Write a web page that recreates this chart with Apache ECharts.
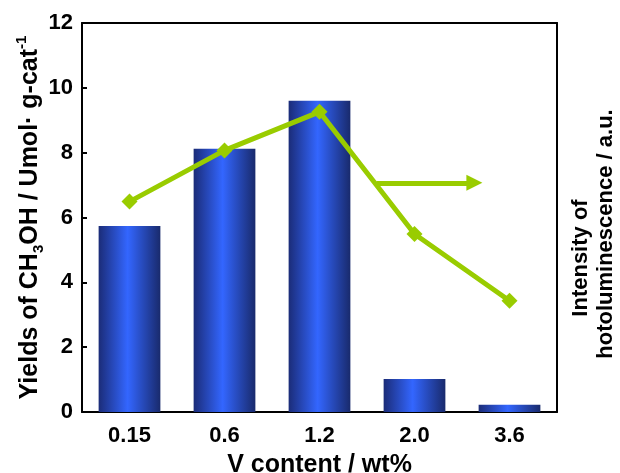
<!DOCTYPE html>
<html><head><meta charset="utf-8">
<script src="https://cdn.jsdelivr.net/npm/echarts@6/dist/echarts.min.js"></script>
<style>html,body{margin:0;padding:0;background:#fff}#c{width:620px;height:473px}</style>
</head><body><div id="c"></div>
<script>
var categories = ['0.15', '0.6', '1.2', '2.0', '3.6'];
var yieldValues = [5.74, 8.12, 9.6, 1.02, 0.22];
var plValues = [6.49, 8.07, 9.26, 5.49, 3.43];
var yTicks = [0, 2, 4, 6, 8, 10, 12];
var arrowX = [2.6, 3.63];
var arrowY = 7.07;

var FONT = '"Liberation Sans", Arial, Helvetica, sans-serif';
var chart = echarts.init(document.getElementById('c'), null, {renderer: 'canvas'});
var barGrad = new echarts.graphic.LinearGradient(0, 0, 1, 0, [
  {offset: 0, color: '#1b2c78'},
  {offset: 0.47, color: '#3366ff'},
  {offset: 1, color: '#192a6c'}
]);
chart.setOption({
  animation: false,
  backgroundColor: '#fff',
  grid: {left: 82, right: 63, top: 23, bottom: 61, containLabel: false, outerBoundsMode: 'none'},
  xAxis: [{
    type: 'category', data: categories, position: 'bottom',
    axisLine: {onZero: false, lineStyle: {color: '#000', width: 2}},
    axisTick: {show: false},
    axisLabel: {color: '#000', fontFamily: FONT, fontWeight: 'bold', fontSize: 22, margin: 13},
    name: 'V content / wt%', nameLocation: 'middle', nameGap: 41,
    nameTextStyle: {color: '#000', fontFamily: FONT, fontWeight: 'bold', fontSize: 25}
  }, {
    type: 'value', min: -0.5, max: 4.5, position: 'top',
    axisLine: {show: true, onZero: false, lineStyle: {color: '#000', width: 2}},
    axisTick: {show: false}, axisLabel: {show: false}, splitLine: {show: false}
  }],
  yAxis: [{
    type: 'value', min: yTicks[0], max: yTicks[yTicks.length - 1], interval: 2,
    axisLine: {show: true, onZero: false, lineStyle: {color: '#000', width: 2}},
    axisTick: {show: true, inside: true, length: 5, lineStyle: {color: '#000', width: 2}},
    axisLabel: {color: '#000', fontFamily: FONT, fontWeight: 'bold', fontSize: 22, margin: 9},
    splitLine: {show: false},
    name: '{a|Yields of CH}{sub|3}{a|OH / Umol· g-cat}{sup|-1}',
    nameLocation: 'middle', nameRotate: 90, nameGap: 36, nameMoveOverlap: false,
    nameTextStyle: {
      color: '#000', fontFamily: FONT, fontWeight: 'bold', fontSize: 25,
      rich: {
        a: {fontFamily: FONT, fontWeight: 'bold', fontSize: 25, color: '#000', lineHeight: 32, verticalAlign: 'middle'},
        sub: {fontFamily: FONT, fontWeight: 'bold', fontSize: 15, color: '#000', lineHeight: 32, verticalAlign: 'bottom'},
        sup: {fontFamily: FONT, fontWeight: 'bold', fontSize: 15, color: '#000', lineHeight: 32, verticalAlign: 'top'}
      }
    }
  }, {
    type: 'value', min: 0, max: 12, interval: 2, position: 'right',
    axisLine: {show: true, onZero: false, lineStyle: {color: '#000', width: 2}},
    axisTick: {show: false}, axisLabel: {show: false}, splitLine: {show: false}
  }],
  graphic: [
    {type: 'text', x: 581, y: 258, rotation: Math.PI / 2,
     style: {text: 'Intensity of', fill: '#000', font: 'bold 22px ' + FONT, textAlign: 'center', textVerticalAlign: 'middle'}},
    {type: 'text', x: 606, y: 234, rotation: Math.PI / 2,
     style: {text: 'hotoluminescence / a.u.', fill: '#000', font: 'bold 22px ' + FONT, textAlign: 'center', textVerticalAlign: 'middle'}}
  ],
  series: [{
    type: 'bar', data: yieldValues, xAxisIndex: 0, yAxisIndex: 0, barWidth: '65%',
    itemStyle: {color: barGrad}
  }, {
    type: 'line', data: plValues, xAxisIndex: 0, yAxisIndex: 1,
    symbol: 'diamond', symbolSize: 16,
    lineStyle: {color: '#99cc00', width: 5},
    itemStyle: {color: '#99cc00'}
  }, {
    type: 'lines', coordinateSystem: 'cartesian2d', xAxisIndex: 1, yAxisIndex: 1,
    symbol: ['none', 'triangle'], symbolSize: 16,
    lineStyle: {color: '#99cc00', width: 5, opacity: 1},
    data: [{coords: [[arrowX[0], arrowY], [arrowX[1], arrowY]]}]
  }]
});
</script></body></html>
